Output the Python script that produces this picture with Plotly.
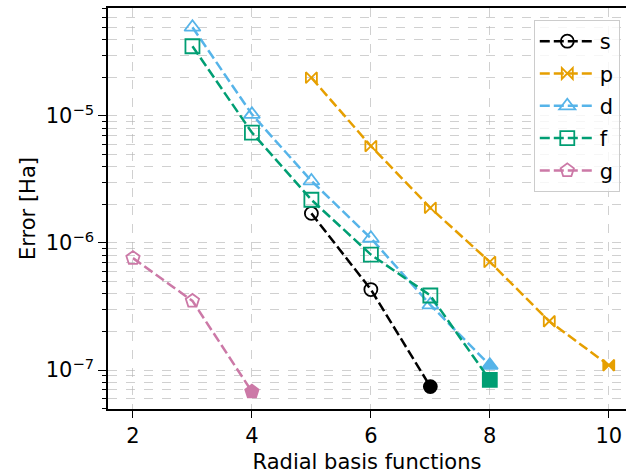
import plotly.graph_objects as go

# Data
s_x = [5, 6, 7]
s_y = [1.71e-6, 4.3e-7, 7.4e-8]
p_x = [5, 6, 7, 8, 9, 10]
p_y = [2.0e-5, 5.8e-6, 1.89e-6, 7.1e-7, 2.42e-7, 1.09e-7]
d_x = [3, 4, 5, 6, 7, 8]
d_y = [5.0e-5, 1.03e-5, 3.08e-6, 1.09e-6, 3.26e-7, 1.09e-7]
f_x = [3, 4, 5, 6, 7, 8]
f_y = [3.54e-5, 7.4e-6, 2.19e-6, 8.1e-7, 3.86e-7, 8.35e-8]
g_x = [2, 3, 4]
g_y = [7.6e-7, 3.5e-7, 6.75e-8]

x_ticks = [2, 4, 6, 8, 10]
y_ticks = [1e-7, 1e-6, 1e-5]
y_ticktext = ["10<sup>\u22127</sup>", "10<sup>\u22126</sup>", "10<sup>\u22125</sup>"]

series = [
    ("s", s_x, s_y, "#000000", "circle", 13),
    ("p", p_x, p_y, "#E69F00", "bowtie", 11),
    ("d", d_x, d_y, "#56B4E9", "triangle-up", 14),
    ("f", f_x, f_y, "#009E73", "square", 14),
    ("g", g_x, g_y, "#CC79A7", "pentagon", 14),
]

fig = go.Figure()
for name, xs, ys, col, sym, sz in series:
    symbols = [sym + "-open"] * (len(xs) - 1) + [sym]
    fig.add_trace(go.Scatter(
        x=xs, y=ys, name=name, mode="lines+markers", legendgroup=name,
        line=dict(color=col, width=2.5, dash="10px,4px"),
        marker=dict(symbol=symbols, size=sz, color=col,
                    line=dict(color=col, width=1.8)),
    ))

minor_vals = []
for e in range(-8, -4):
    for m in range(2, 10):
        minor_vals.append(m * 10 ** e)

grid_col = "rgba(176,176,176,0.6)"
FS = 21
fig.update_layout(
    width=626, height=474,
    margin=dict(l=108, r=0, t=8, b=65),
    paper_bgcolor="white", plot_bgcolor="white",
    font=dict(family="DejaVu Sans", size=FS, color="black"),
    showlegend=True,
    legend=dict(
        x=0.988, y=0.97, xanchor="right", yanchor="top",
        bgcolor="rgba(255,255,255,0.8)", bordercolor="#cccccc", borderwidth=1,
        font=dict(size=FS), itemwidth=55, tracegroupgap=2,
    ),
    xaxis=dict(
        range=[1.58, 10.29], tickvals=x_ticks, ticktext=[str(v) for v in x_ticks],
        showline=True, linecolor="black", linewidth=1.5, mirror=True,
        ticks="outside", ticklen=7, tickwidth=1.2, tickcolor="black",
        tickfont=dict(size=FS),
        showgrid=True, gridcolor=grid_col, griddash="dash", gridwidth=1,
        zeroline=False,
        title=dict(text="Radial basis functions", standoff=8, font=dict(size=FS)),
    ),
    yaxis=dict(
        type="log", range=[-7.307, -4.150],
        tickvals=y_ticks, ticktext=y_ticktext,
        showline=True, linecolor="black", linewidth=1.5,
        ticks="outside", ticklen=8, tickwidth=1.2, tickcolor="black",
        tickfont=dict(size=FS),
        showgrid=True, gridcolor=grid_col, griddash="dash", gridwidth=1,
        zeroline=False,
        minor=dict(tickvals=minor_vals, ticks="outside", ticklen=4,
                   tickcolor="black", showgrid=True, gridcolor=grid_col,
                   griddash="dash", gridwidth=1),
        title=dict(text="Error [Ha]", standoff=4, font=dict(size=FS)),
    ),
)

fig.write_html("out.html", config={"displayModeBar": False},
               post_script="document.body.style.margin='0';")
